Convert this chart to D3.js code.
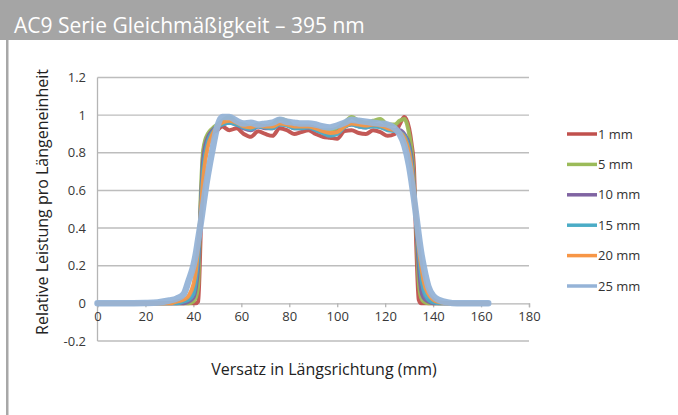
<!DOCTYPE html>
<html>
<head>
<meta charset="utf-8">
<script src="https://cdn.jsdelivr.net/npm/d3@7"></script>
<style>
  body { margin: 0; background: #fff; }
  svg { display: block; font-family: "Open Sans", "Noto Sans", sans-serif; }
</style>
</head>
<body>
<svg id="chart" width="678" height="415"></svg>
<script>
// Versatz (mm) sample positions shared by all series
var xs = [0, 10, 20, 25, 30, 33, 36, 38, 40, 41, 42, 43, 44, 45, 46, 48, 50, 52, 55, 58,
  61, 64, 67, 70, 73, 76, 79, 82, 85, 88, 91, 94, 97, 100, 103, 106, 109, 112, 115, 118,
  121, 124, 126, 128, 130, 131, 132, 133, 134, 135, 136, 138, 140, 143, 146, 150, 155, 163];

var mm1 = [0, 0, 0, 0, 0, 0, 0, 0, 0, 0, 0.01, 0.35, 0.78, 0.86, 0.89, 0.91, 0.92, 0.94, 0.92, 0.93,
  0.90, 0.885, 0.915, 0.90, 0.89, 0.93, 0.92, 0.90, 0.91, 0.92, 0.90, 0.885, 0.88, 0.875, 0.915, 0.92, 0.905, 0.90, 0.92, 0.91,
  0.89, 0.90, 0.95, 0.99, 0.93, 0.85, 0.72, 0.30, 0.02, 0, 0, 0, 0, 0, 0, 0, 0, 0];

var mm5 = [0, 0, 0, 0, 0, 0, 0, 0, 0.01, 0.03, 0.10, 0.55, 0.80, 0.87, 0.90, 0.93, 0.95, 0.97, 0.99, 0.96,
  0.95, 0.94, 0.95, 0.94, 0.95, 0.98, 0.97, 0.94, 0.94, 0.94, 0.93, 0.92, 0.92, 0.93, 0.96, 0.99, 0.97, 0.96, 0.97, 0.98,
  0.95, 0.95, 0.97, 0.98, 0.90, 0.82, 0.65, 0.40, 0.12, 0.03, 0.01, 0, 0, 0, 0, 0, 0, 0];

var mm10 = [0, 0, 0, 0, 0, 0, 0, 0.01, 0.03, 0.08, 0.20, 0.50, 0.75, 0.84, 0.88, 0.92, 0.94, 0.95, 0.96, 0.95,
  0.93, 0.92, 0.94, 0.93, 0.93, 0.95, 0.95, 0.93, 0.93, 0.935, 0.92, 0.91, 0.90, 0.91, 0.94, 0.95, 0.94, 0.935, 0.945, 0.94,
  0.925, 0.92, 0.92, 0.90, 0.84, 0.77, 0.62, 0.42, 0.20, 0.07, 0.03, 0.01, 0, 0, 0, 0, 0, 0];

var mm15 = [0, 0, 0, 0, 0, 0, 0.01, 0.02, 0.05, 0.12, 0.25, 0.48, 0.70, 0.80, 0.86, 0.91, 0.94, 0.95, 0.96, 0.95,
  0.935, 0.925, 0.94, 0.935, 0.93, 0.95, 0.945, 0.93, 0.93, 0.935, 0.92, 0.905, 0.89, 0.90, 0.935, 0.95, 0.94, 0.935, 0.94, 0.935,
  0.92, 0.915, 0.91, 0.89, 0.82, 0.74, 0.60, 0.44, 0.27, 0.14, 0.07, 0.02, 0.005, 0, 0, 0, 0, 0];

var mm20 = [0, 0, 0, 0, 0, 0.01, 0.02, 0.04, 0.10, 0.17, 0.30, 0.47, 0.65, 0.76, 0.83, 0.90, 0.94, 0.96, 0.97, 0.96,
  0.94, 0.935, 0.945, 0.94, 0.94, 0.955, 0.95, 0.94, 0.94, 0.94, 0.93, 0.915, 0.905, 0.91, 0.94, 0.955, 0.95, 0.945, 0.95, 0.945,
  0.93, 0.92, 0.91, 0.88, 0.80, 0.72, 0.60, 0.45, 0.30, 0.20, 0.12, 0.05, 0.02, 0.005, 0, 0, 0, 0];

var mm25 = [0, 0, 0.002, 0.005, 0.015, 0.025, 0.05, 0.12, 0.20, 0.26, 0.34, 0.42, 0.51, 0.60, 0.68, 0.82, 0.94, 0.99, 0.99, 0.97,
  0.955, 0.96, 0.95, 0.955, 0.96, 0.975, 0.965, 0.96, 0.955, 0.955, 0.95, 0.94, 0.935, 0.945, 0.96, 0.975, 0.97, 0.965, 0.96, 0.955,
  0.95, 0.93, 0.90, 0.84, 0.73, 0.65, 0.56, 0.46, 0.36, 0.27, 0.20, 0.09, 0.04, 0.015, 0.005, 0, 0, 0];

var names = ["1 mm", "5 mm", "10 mm", "15 mm", "20 mm", "25 mm"];
var colors = ["#c0504d", "#9bbb59", "#8064a2", "#4bacc6", "#f79646", "#95b3d7"];
var widths = [4, 4, 4, 4, 4, 6.5];
var yTicks = [-0.2, 0, 0.2, 0.4, 0.6, 0.8, 1, 1.2];
var xTicks = [0, 20, 40, 60, 80, 100, 120, 140, 160, 180];

var series = [mm1, mm5, mm10, mm15, mm20, mm25].map(function(vals, i){
  return { name: names[i], color: colors[i], width: widths[i],
    values: vals.map(function(v, j){ return [xs[j], v]; }) };
});

var svg = d3.select("#chart");

// title banner
svg.append("rect").attr("x", 0).attr("y", 0).attr("width", 678).attr("height", 40).attr("fill", "#a5a5a5");
svg.append("text").attr("x", 14).attr("y", 33).attr("fill", "#fff")
  .attr("font-size", 21).text("AC9 Serie Gleichmäßigkeit – 395 nm");
svg.append("rect").attr("x", 6).attr("y", 40).attr("width", 2.5).attr("height", 375).attr("fill", "#a8a8a8");

var x = d3.scaleLinear().domain([0, 180]).range([97.5, 529]);
var y = d3.scaleLinear().domain([-0.2, 1.2]).range([341, 77.5]);

// gridlines
svg.append("g").selectAll("line").data(yTicks.filter(function(d){ return d !== 0; })).enter()
  .append("line")
  .attr("x1", x(0)).attr("x2", x(180))
  .attr("y1", function(d){ return y(d); }).attr("y2", function(d){ return y(d); })
  .attr("stroke", "#bdbdbd").attr("stroke-width", 1.4);

// y axis line
svg.append("line").attr("x1", x(0)).attr("x2", x(0)).attr("y1", y(1.2)).attr("y2", y(-0.2))
  .attr("stroke", "#b5b5b5").attr("stroke-width", 1.3);

// x axis at zero
var xAxis = svg.append("g").attr("transform", "translate(0," + y(0) + ")")
  .call(d3.axisBottom(x).tickValues(xTicks).tickSize(4).tickPadding(4).tickFormat(d3.format("d")));
xAxis.select(".domain").attr("stroke", "#b5b5b5").attr("stroke-width", 1.3);
xAxis.selectAll(".tick line").attr("stroke", "#b5b5b5").attr("stroke-width", 1.3);
xAxis.selectAll(".tick text").attr("font-size", 13).attr("fill", "#383838")
  .attr("font-family", "'Open Sans', sans-serif");

// y tick labels
svg.append("g").selectAll("text").data(yTicks).enter().append("text")
  .attr("x", 86).attr("y", function(d){ return y(d); }).attr("dy", "0.35em")
  .attr("text-anchor", "end").attr("font-size", 13).attr("fill", "#383838")
  .text(function(d){ return d3.format("")(d).replace("−", "-"); });

// lines
var line = d3.line().x(function(d){ return x(d[0]); }).y(function(d){ return y(d[1]); })
  .curve(d3.curveMonotoneX);

svg.append("g").selectAll("path").data(series).enter().append("path")
  .attr("d", function(d){ return line(d.values); })
  .attr("fill", "none")
  .attr("stroke", function(d){ return d.color; })
  .attr("stroke-width", function(d){ return d.width; })
  .attr("stroke-linejoin", "round").attr("stroke-linecap", "round")
  .attr("stroke-opacity", 0.95);

// legend
var legend = svg.append("g").selectAll("g").data(series).enter().append("g")
  .attr("transform", function(d, i){ return "translate(567," + (134 + i * 30.4) + ")"; });
legend.append("line").attr("x1", 0).attr("x2", 30)
  .attr("stroke", function(d){ return d.color; }).attr("stroke-width", 3.5);
legend.append("text").attr("x", 31).attr("dy", "0.35em").attr("font-size", 13).attr("fill", "#333")
  .text(function(d){ return d.name; });

// axis titles
svg.append("text").attr("x", 324).attr("y", 375).attr("text-anchor", "middle")
  .attr("font-size", 16).attr("fill", "#222").text("Versatz in Längsrichtung (mm)");
svg.append("text").attr("transform", "translate(48,202) rotate(-90)").attr("text-anchor", "middle")
  .attr("font-size", 16).attr("fill", "#222").text("Relative Leistung pro Längeneinheit");
</script>
</body>
</html>
